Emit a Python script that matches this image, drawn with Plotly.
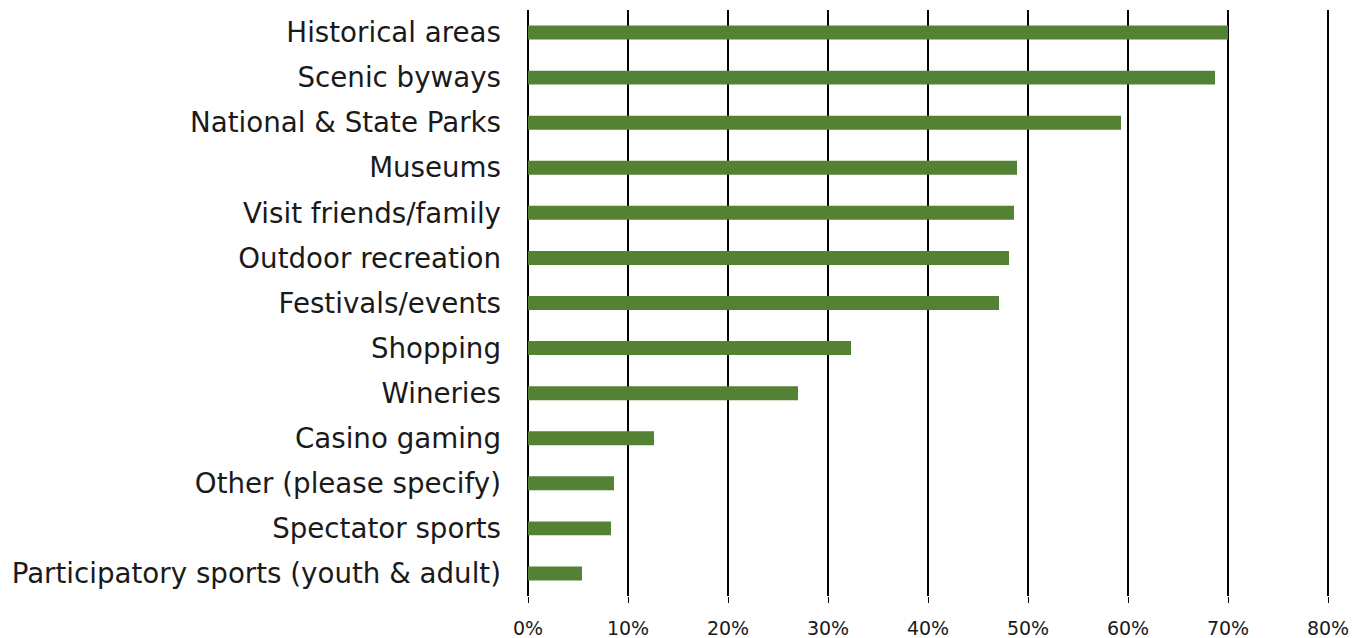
import plotly.graph_objects as go

categories = [
    "Historical areas", "Scenic byways", "National & State Parks", "Museums",
    "Visit friends/family", "Outdoor recreation", "Festivals/events", "Shopping",
    "Wineries", "Casino gaming", "Other (please specify)", "Spectator sports",
    "Participatory sports (youth & adult)",
]
values = [0.700, 0.687, 0.593, 0.489, 0.486, 0.481, 0.471, 0.323, 0.270, 0.126, 0.086, 0.083, 0.054]
x_ticks = [0, 0.1, 0.2, 0.3, 0.4, 0.5, 0.6, 0.7, 0.8]
x_tick_labels = ["0%", "10%", "20%", "30%", "40%", "50%", "60%", "70%", "80%"]

FONT = "DejaVu Sans"

fig = go.Figure(go.Bar(
    x=values, y=categories, orientation="h",
    marker=dict(color="#548235", line=dict(width=0)),
))

# edge gridlines (plotly drops gridlines at the plot edges)
for xv in (x_ticks[0], x_ticks[-1]):
    fig.add_shape(type="line", xref="x", yref="paper", x0=xv, x1=xv, y0=0, y1=1,
                  line=dict(color="black", width=2), layer="below")

fig.update_layout(
    width=1368, height=638,
    margin=dict(l=526, r=38, t=10, b=42, autoexpand=False),
    paper_bgcolor="white", plot_bgcolor="white",
    bargap=0.69, showlegend=False,
    font=dict(family=FONT, color="#1a1a1a"),
)
fig.update_xaxes(
    range=[-0.002, 0.802], tickvals=x_ticks, ticktext=x_tick_labels,
    showgrid=True, gridcolor="black", gridwidth=2,
    zeroline=False, showline=False, automargin=False,
    ticks="outside", ticklen=6, tickcolor="black", tickwidth=1,
    ticklabelstandoff=9,
    tickfont=dict(size=19, family=FONT, color="#1a1a1a"),
)
fig.update_yaxes(
    autorange="reversed", showgrid=False, zeroline=False, showline=False,
    automargin=False,
    ticks="", ticklabelstandoff=24,
    tickfont=dict(size=27.7, family=FONT, color="#1a1a1a"),
)

fig.write_html(
    "out.html",
    config={"displayModeBar": False},
    post_script="document.body.style.margin='0';document.body.style.padding='0';",
)
